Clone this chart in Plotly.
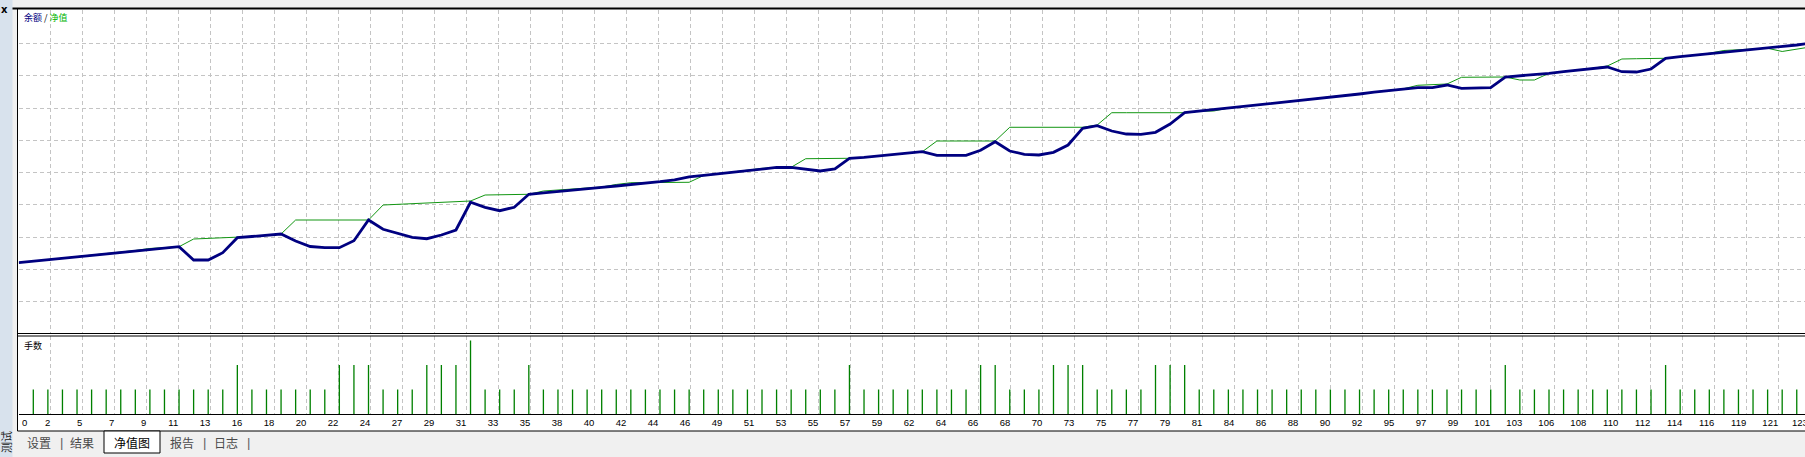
import plotly.graph_objects as go

# ---------------- data ----------------
trade_no = list(range(0, 124))

balance = [10210, 10255, 10300, 10345, 10390, 10437, 10480, 10527, 10570, 10616,
           10660, 10706, 10294, 10294, 10520, 10985, 11022, 11063, 11100, 10883,
           10712, 10675, 10675, 10892, 11534, 11246, 11122, 10998, 10954, 11069,
           11224, 12083, 11928, 11822, 11928, 12331, 12377, 12424, 12470, 12510,
           12542, 12588, 12628, 12675, 12721, 12780, 12873, 12920, 12966, 13013,
           13059, 13109, 13162, 13168, 13106, 13053, 13115, 13447, 13478, 13524,
           13568, 13611, 13651, 13540, 13540, 13540, 13695, 13961, 13673, 13571,
           13549, 13633, 13859, 14377, 14457, 14293, 14200, 14191, 14253, 14510,
           14860, 14907, 14956, 15003, 15052, 15099, 15145, 15195, 15242, 15291,
           15338, 15390, 15440, 15496, 15548, 15601, 15635, 15635, 15719, 15617,
           15617, 15635, 15967, 15998, 16038, 16082, 16131, 16184, 16237, 16277,
           16131, 16122, 16215, 16547, 16596, 16640, 16702, 16733, 16773, 16813,
           16857, 16906, 16959, 17021]

equity = [10210, 10255, 10300, 10345, 10390, 10437, 10480, 10527, 10589, 10651,
          10672, 10706, 10945, 10961, 10976, 10985, 11022, 11063, 11100, 11534,
          11534, 11534, 11534, 11534, 11534, 11999, 12021, 12042, 12061, 12083,
          12101, 12123, 12309, 12315, 12325, 12331, 12433, 12464, 12495, 12526,
          12557, 12635, 12690, 12693, 12697, 12700, 12703, 12914, 12966, 13022,
          13090, 13134, 13162, 13168, 13434, 13434, 13434, 13447, 13478, 13524,
          13568, 13611, 13651, 13983, 13983, 13983, 13983, 13983, 14408, 14408,
          14408, 14408, 14408, 14408, 14479, 14860, 14860, 14860, 14860, 14860,
          14860, 14907, 14913, 15003, 15052, 15099, 15145, 15195, 15242, 15291,
          15338, 15390, 15440, 15496, 15548, 15601, 15710, 15735, 15750, 15958,
          15961, 15964, 15967, 15874, 15874, 16082, 16131, 16184, 16237, 16308,
          16525, 16534, 16541, 16547, 16596, 16640, 16702, 16789, 16813, 16829,
          16857, 16758, 16826, 16903]

lot_trade = list(range(1, 123))
lots = [0.1, 0.1, 0.1, 0.1, 0.1, 0.1, 0.1, 0.1, 0.1, 0.1,
        0.1, 0.1, 0.1, 0.1, 0.2, 0.1, 0.1, 0.1, 0.1, 0.1,
        0.1, 0.2, 0.2, 0.2, 0.1, 0.1, 0.1, 0.2, 0.2, 0.2,
        0.3, 0.1, 0.1, 0.1, 0.2, 0.1, 0.1, 0.1, 0.1, 0.1,
        0.1, 0.1, 0.1, 0.1, 0.1, 0.1, 0.1, 0.1, 0.1, 0.1,
        0.1, 0.1, 0.1, 0.1, 0.1, 0.1, 0.2, 0.1, 0.1, 0.1,
        0.1, 0.1, 0.1, 0.1, 0.1, 0.2, 0.2, 0.1, 0.1, 0.1,
        0.2, 0.2, 0.2, 0.1, 0.1, 0.1, 0.1, 0.2, 0.2, 0.2,
        0.1, 0.1, 0.1, 0.1, 0.1, 0.1, 0.1, 0.1, 0.1, 0.1,
        0.1, 0.1, 0.1, 0.1, 0.1, 0.1, 0.1, 0.1, 0.1, 0.1,
        0.1, 0.2, 0.1, 0.1, 0.1, 0.1, 0.1, 0.1, 0.1, 0.1,
        0.1, 0.1, 0.2, 0.1, 0.1, 0.1, 0.1, 0.1, 0.1, 0.1,
        0.1, 0.1]

x_tick_labels = ["0", "2", "5", "7", "9", "11", "13", "16", "18", "20", "22", "24",
                 "27", "29", "31", "33", "35", "38", "40", "42", "44", "46", "49",
                 "51", "53", "55", "57", "59", "62", "64", "66", "68", "70", "73",
                 "75", "77", "79", "81", "84", "86", "88", "90", "92", "95", "97",
                 "99", "101", "103", "106", "108", "110", "112", "114", "116", "119",
                 "121", "123"]

tab_labels = ["设置", "结果", "净值图", "报告", "日志"]

# ---------------- geometry ----------------
W, H = 1805, 457


def fx(px):
    return px / W


def fy(py):
    return 1 - py / H


X0_PX = 18.73
PX_PER_TRADE = 14.574
X_MAX = (W - X0_PX) / PX_PER_TRADE
GRID_STEP = 32.0 / PX_PER_TRADE
grid_vals = [m * GRID_STEP for m in range(len(x_tick_labels))]

TOP_PY0, TOP_PY1 = 9.5, 333.0
BOT_PY0, BOT_PY1 = 336.0, 414.0
TOP_RANGE = [8031, 18059.5]
BOT_RANGE = [0, 0.3184]

GRID_COLOR = "#c4c4c4"
NAVY = "#000080"
GREEN = "#129612"

fig = go.Figure()
fig.add_trace(go.Scatter(x=trade_no, y=equity, mode="lines",
                         line=dict(color=GREEN, width=1), xaxis="x", yaxis="y",
                         hoverinfo="skip"))
fig.add_trace(go.Scatter(x=trade_no, y=balance, mode="lines",
                         line=dict(color=NAVY, width=2.8), xaxis="x", yaxis="y",
                         hoverinfo="skip"))
fig.add_trace(go.Bar(x=lot_trade, y=lots, width=0.09, marker=dict(color="#008000", line=dict(width=0)),
                     xaxis="x2", yaxis="y2", hoverinfo="skip"))

axis_common = dict(zeroline=False, showgrid=True, gridcolor=GRID_COLOR, gridwidth=1,
                   griddash="4px,3px", fixedrange=True)

fig.update_layout(
    width=W, height=H,
    margin=dict(l=0, r=0, t=0, b=0),
    paper_bgcolor="#f0f0f0",
    plot_bgcolor="white",
    showlegend=False,
    xaxis=dict(domain=[fx(X0_PX), 1], range=[0, X_MAX], anchor="y",
               tickvals=grid_vals[1:56], showticklabels=False, ticks="",
               showline=False, **axis_common),
    yaxis=dict(domain=[fy(TOP_PY1), fy(TOP_PY0)], range=TOP_RANGE, anchor="x",
               tickvals=list(range(9000, 18000, 1000)), showticklabels=False, ticks="",
               showline=False, **axis_common),
    xaxis2=dict(domain=[fx(X0_PX), 1], range=[0, X_MAX], anchor="y2",
                tickvals=grid_vals[1:56], ticktext=x_tick_labels[1:56],
                ticklabelposition="outside left", ticks="", tickangle=0,
                tickfont=dict(family="Liberation Sans", size=9.5, color="black"),
                showline=True, linecolor="black", linewidth=1, **axis_common),
    yaxis2=dict(domain=[fy(BOT_PY1), fy(BOT_PY0)], range=BOT_RANGE, anchor="x2",
                showticklabels=False, ticks="", showgrid=False, zeroline=False,
                showline=False, fixedrange=True),
)

shapes = []
# left blue strip
shapes.append(dict(type="rect", xref="paper", yref="paper", x0=0, x1=fx(12.5), y0=0, y1=1,
                   fillcolor="#d8e2ed", line=dict(width=0), layer="below"))
# white frame area
shapes.append(dict(type="rect", xref="paper", yref="paper", x0=fx(17.5), x1=1, y0=fy(431), y1=fy(9),
                   fillcolor="white", line=dict(width=0), layer="below"))
# frame lines
for (x0, y0, x1, y1, w) in [(12.5, 8.5, W, 8.5, 2), (17.5, 9, 17.5, 431, 1),
                            (17.5, 333.5, W, 333.5, 1), (17.5, 336, W, 336, 1),
                            (17.5, 431, W, 431, 1)]:
    shapes.append(dict(type="line", xref="paper", yref="paper", x0=fx(x0), x1=fx(x1),
                       y0=fy(y0), y1=fy(y1), line=dict(color="black", width=w)))
# selected tab box
shapes.append(dict(type="rect", xref="paper", yref="paper", x0=fx(104), x1=fx(160),
                   y0=fy(453), y1=fy(431), fillcolor="white", line=dict(color="black", width=1)))
fig.update_layout(shapes=shapes)

ann = []
ann.append(dict(xref="paper", yref="paper", x=fx(22), y=fy(18), xanchor="left", yanchor="middle",
                showarrow=False,
                text='<span style="color:#000080">余额</span> / <span style="color:#00b400">净值</span>',
                font=dict(family="Noto Sans CJK SC", size=9, color="black")))
ann.append(dict(xref="paper", yref="paper", x=fx(22), y=fy(345.5), xanchor="left", yanchor="middle",
                showarrow=False, text="手数",
                font=dict(family="Noto Sans CJK SC", size=9, color="black")))
# first and last (clipped) tick labels
ann.append(dict(xref="x2", yref="paper", x=grid_vals[0], y=fy(422), xanchor="left", yanchor="middle",
                xshift=1, showarrow=False, text=x_tick_labels[0],
                font=dict(family="Liberation Sans", size=9.5, color="black")))
ann.append(dict(xref="paper", yref="paper", x=fx(X0_PX + grid_vals[-1] * PX_PER_TRADE - 1), y=fy(422),
                xanchor="right", yanchor="middle", showarrow=False, text=x_tick_labels[-1],
                font=dict(family="Liberation Sans", size=9.5, color="black")))
# window chrome
ann.append(dict(xref="paper", yref="paper", x=fx(4.5), y=fy(9), xanchor="center", yanchor="middle",
                showarrow=False, text="<b>x</b>", font=dict(family="DejaVu Sans", size=10, color="black")))
ann.append(dict(xref="paper", yref="paper", x=fx(6), y=fy(442), xanchor="center", yanchor="middle",
                showarrow=False, text="测试", textangle=-90,
                font=dict(family="Noto Sans CJK SC", size=11, color="#202020")))
tab_x = [38.5, 82, 132, 182, 225.5]
for i, (lbl, tx) in enumerate(zip(tab_labels, tab_x)):
    ann.append(dict(xref="paper", yref="paper", x=fx(tx), y=fy(442), xanchor="center", yanchor="middle",
                    showarrow=False, text=lbl,
                    font=dict(family="Noto Sans CJK SC", size=12,
                              color="#000000" if i == 2 else "#4a4a4a")))
for sx in [61, 204, 248]:
    ann.append(dict(xref="paper", yref="paper", x=fx(sx), y=fy(442), xanchor="center", yanchor="middle",
                    showarrow=False, text="|",
                    font=dict(family="Liberation Sans", size=13, color="#606060")))
fig.update_layout(annotations=ann)

fig.write_html("out.html",
               config={"displayModeBar": False, "staticPlot": True},
               post_script="document.body.style.margin='0';document.body.style.padding='0';"
                           "document.body.style.overflow='hidden';")
